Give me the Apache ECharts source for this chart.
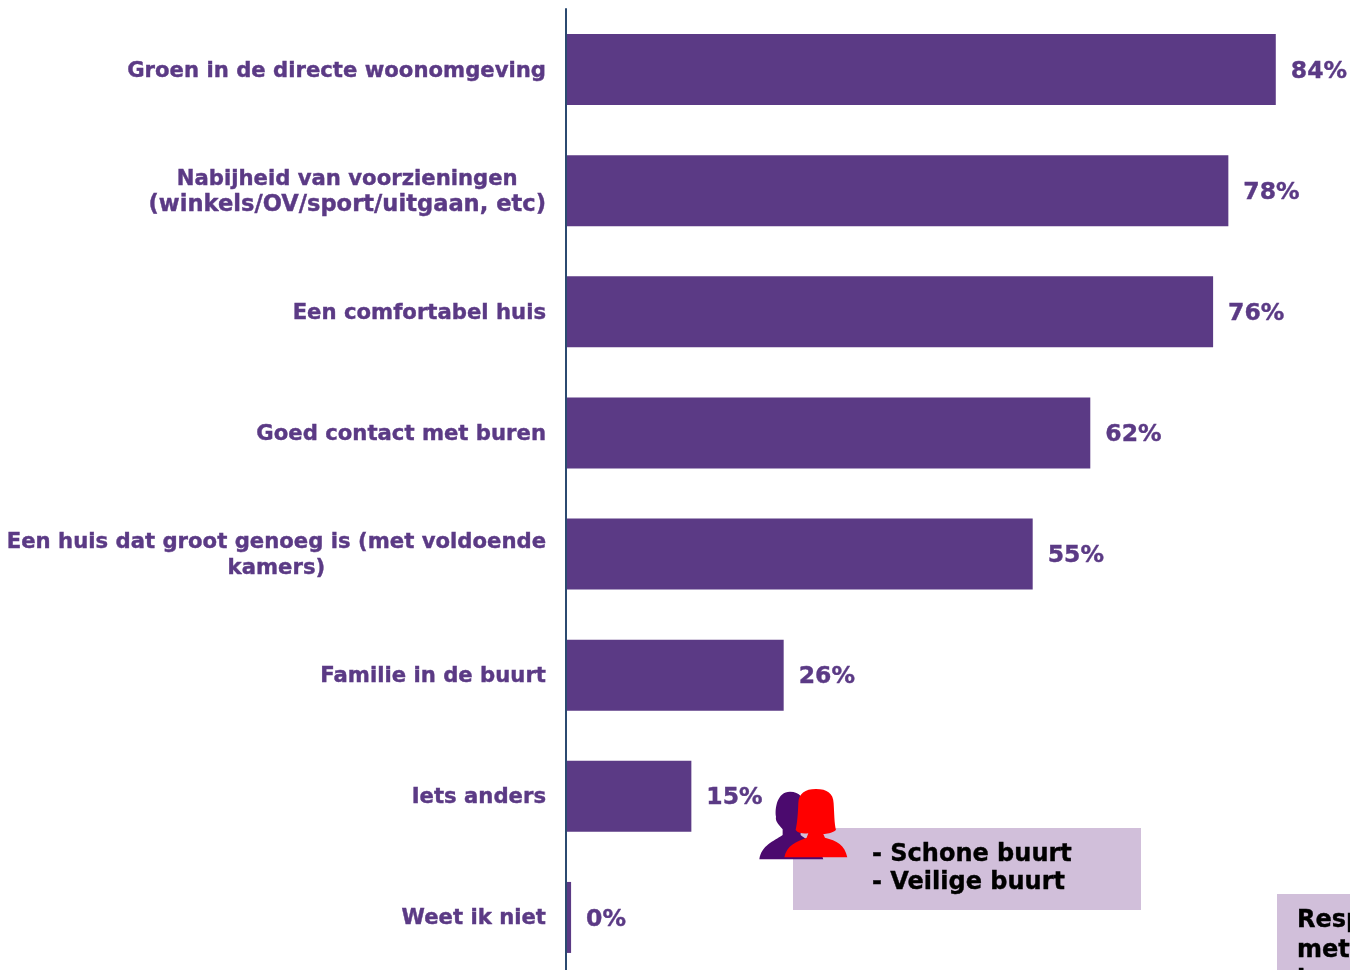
<!DOCTYPE html>
<html><head><meta charset="utf-8">
<style>html,body{margin:0;padding:0;background:#fff;overflow:hidden}#c{width:1350px;height:970px}</style>
<script src="https://cdn.jsdelivr.net/npm/echarts@6/dist/echarts.min.js"></script>
</head><body><div id="c"></div>
<script>
const categories = ['Groen in de directe woonomgeving','Nabijheid van voorzieningen\n(winkels/OV/sport/uitgaan, etc)','Een comfortabel huis','Goed contact met buren','Een huis dat groot genoeg is (met voldoende\nkamers)','Familie in de buurt','Iets anders','Weet ik niet'];
const values = [83.8, 78.2, 76.4, 61.9, 55.1, 25.7, 14.8, 0.6];
const valueLabels = ['84%','78%','76%','62%','55%','26%','15%','0%'];
const noteLines = ['- Schone buurt','- Veilige buurt'];
const sideNote = ['Respondenten','met','koopwoning'];
const font = '"DejaVu Sans", Verdana, sans-serif';
const purple = '#5B3A85', lilac = '#D1BFDA';
const darkPerson = 'M150 65C180 65 192 85 192 110C192 130 190 150 182 165L182 195C205 215 240 225 250 268L58 268C65 225 100 215 128 195L128 178C118 165 105 155 108 140C104 115 112 65 150 65Z';
const redPerson = 'M228 57C262 57 280 70 281 100C283 130 283 160 288 180C275 190 260 192 250 192L255 203C290 212 315 225 322 262L133 262C140 225 170 215 200 203L205 190C190 192 175 190 167 180C172 160 174 130 175 100C176 70 195 57 228 57Z';
const noteStyle = {fontFamily:font,fontWeight:'bold',fontSize:24,fill:'#000',stroke:'#000',lineWidth:0.4,verticalAlign:'middle'};
const chart = echarts.init(document.getElementById('c'));
chart.setOption({
  animation:false,
  grid:{left:566,top:9,width:847,height:969,containLabel:false,outerBoundsMode:'none'},
  xAxis:{type:'value',min:0,max:100,show:false},
  yAxis:{type:'category',inverse:true,data:categories,z:3,
    axisLine:{show:true,lineStyle:{color:'#2B4A70',width:2}},axisTick:{show:false},
    axisLabel:{margin:20,interval:0,hideOverlap:false,padding:[3,0,0,0],
      formatter:v=>v.split('\n').map(s=>(s.includes('/')?'{b|':'{a|')+s+'}').join('\n'),
      rich:{
        a:{align:'center',fontFamily:font,fontWeight:'bold',fontSize:21.2,lineHeight:26,color:purple,textBorderColor:purple,textBorderWidth:0.4},
        b:{align:'center',fontFamily:font,fontWeight:'bold',fontSize:22.6,lineHeight:26,color:purple,textBorderColor:purple,textBorderWidth:0.4}}}},
  series:[{type:'bar',data:values,barWidth:71,itemStyle:{color:purple},
    label:{show:true,position:'right',distance:15,offset:[0,2],formatter:p=>valueLabels[p.dataIndex],
      fontFamily:font,fontWeight:'bold',fontSize:23.5,color:purple,textBorderColor:purple,textBorderWidth:0.4}},
    {type:'custom',coordinateSystem:'none',z:11,silent:true,clip:false,data:[0],
      renderItem:()=>({type:'group',children:[
        {type:'path',shape:{pathData:darkPerson,x:759.3,y:791.7,width:64,height:67.6},style:{fill:'#4B0A6E'}},
        {type:'path',shape:{pathData:redPerson,x:784.3,y:789,width:63,height:68.3},style:{fill:'#FF0000'}}
      ]})}],
  graphic:[
    {type:'rect',z:10,shape:{x:793,y:828,width:348,height:82},style:{fill:lilac}},
    {type:'text',z:13,x:872,y:855,style:Object.assign({text:noteLines[0]},noteStyle)},
    {type:'text',z:13,x:872,y:883,style:Object.assign({text:noteLines[1]},noteStyle)},
    {type:'rect',z:10,shape:{x:1277,y:894,width:73,height:76},style:{fill:lilac}},
    {type:'text',z:13,x:1297,y:921,style:Object.assign({text:sideNote[0]},noteStyle)},
    {type:'text',z:13,x:1297,y:951,style:Object.assign({text:sideNote[1]},noteStyle)},
    {type:'text',z:13,x:1297,y:981,style:Object.assign({text:sideNote[2]},noteStyle)}
  ]
});
</script></body></html>
